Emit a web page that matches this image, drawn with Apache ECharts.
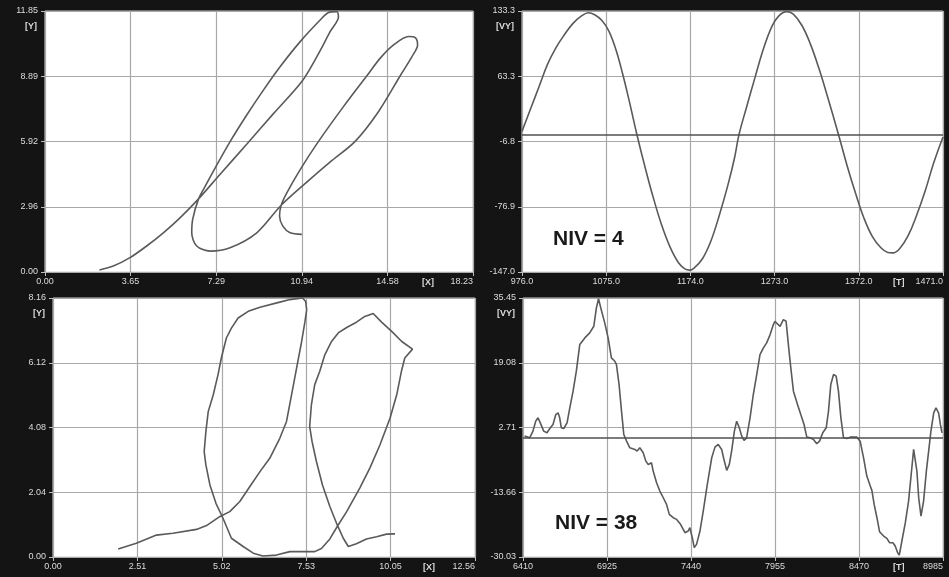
<!DOCTYPE html>
<html>
<head>
<meta charset="utf-8">
<script src="https://cdn.jsdelivr.net/npm/echarts@6/dist/echarts.min.js"></script>
<style>
  html, body { margin: 0; padding: 0; background: #141414; }
  #chart { width: 949px; height: 577px; }
</style>
</head>
<body>
<div id="chart"></div>
<script>
// ---- Tick labels of the four panels ----
const xTicks1 = ['0.00', '3.65', '7.29', '10.94', '14.58', '18.23'];
const yTicks1 = ['0.00', '2.96', '5.92', '8.89', '11.85'];
const tTicks2 = ['976.0', '1075.0', '1174.0', '1273.0', '1372.0', '1471.0'];
const vTicks2 = ['-147.0', '-76.9', '-6.8', '63.3', '133.3'];
const xTicks3 = ['0.00', '2.51', '5.02', '7.53', '10.05', '12.56'];
const yTicks3 = ['0.00', '2.04', '4.08', '6.12', '8.16'];
const tTicks4 = ['6410', '6925', '7440', '7955', '8470', '8985'];
const vTicks4 = ['-30.03', '-13.66', '2.71', '19.08', '35.45'];

// ---- Panel 1: X/Y trajectory (two elongated loops) ----
const x1 = [2.32, 2.91, 3.62, 4.33, 5.04, 5.75, 6.54, 7.46, 8.60, 9.73, 10.94, 11.58, 12.15, 12.50, 12.43,
            12.08, 11.72, 10.87, 10.02, 9.31, 8.60, 7.89, 7.25, 6.82, 6.54, 6.29, 6.25, 6.46, 7.03, 7.88,
            9.02, 10.06, 11.15, 12.15, 13.21, 14.21, 15.13, 15.63, 15.87, 15.77, 15.49, 14.85, 14.28, 13.71,
            12.72, 11.65, 10.87, 10.30, 10.06, 9.99, 10.13, 10.44, 10.94];
const y1 = [0.09, 0.27, 0.65, 1.18, 1.78, 2.46, 3.32, 4.44, 5.81, 7.19, 8.65, 9.78, 10.92, 11.59, 11.82,
            11.78, 11.44, 10.46, 9.33, 8.27, 7.14, 5.93, 4.73, 3.89, 3.32, 2.39, 1.78, 1.18, 0.95, 1.10,
            1.78, 3.03, 4.08, 5.00, 5.93, 7.29, 8.91, 9.78, 10.31, 10.64, 10.69, 10.31, 9.71, 8.91,
            7.52, 5.93, 4.65, 3.59, 3.03, 2.54, 2.08, 1.78, 1.71];

// ---- Panel 2: VY over T (NIV = 4) ----
const t2 = [976, 986, 996, 1006, 1016, 1026, 1036, 1046, 1054, 1062, 1070, 1078, 1086, 1094, 1102, 1111,
            1120, 1130, 1140, 1150, 1160, 1168, 1173, 1178, 1188, 1198, 1208, 1218, 1226, 1231, 1240,
            1250, 1260, 1270, 1278, 1287, 1295, 1305, 1315, 1325, 1335, 1348, 1358, 1368, 1378, 1388,
            1398, 1406, 1412, 1420, 1430, 1440, 1450, 1460, 1471];
const v2 = [4, 28, 52, 76, 94, 108, 120, 128, 131.5, 129, 123, 112, 93, 67, 37, 1,
            -32, -66, -96, -120, -137, -144, -145, -143, -133, -114, -86, -54, -24, 0, 30,
            62, 93, 117, 128, 132.6, 130, 118, 98, 72, 42, 1, -32, -62, -89, -109,
            -121, -126, -126.5, -122, -108, -86, -60, -30, -2];
const base2 = 0;

// ---- Panel 3: X/Y trajectory (hand traced loops) ----
const x3 = [1.94, 2.48, 3.08, 3.57, 4.27, 4.57, 4.96, 5.26, 5.56, 5.86, 6.16, 6.45, 6.75, 6.95, 7.10, 7.25,
            7.40, 7.50, 7.55, 7.52, 7.43, 7.05, 6.75, 6.16, 5.81, 5.51, 5.31, 5.16, 5.01, 4.91, 4.77,
            4.62, 4.55, 4.50, 4.55, 4.67, 4.85, 5.06, 5.31, 5.66, 5.96, 6.25, 6.65, 7.05, 7.40, 7.79,
            7.99, 8.24, 8.46, 8.74, 9.13, 9.43, 9.73, 10.03, 10.23, 10.37, 10.47, 10.70, 10.38, 10.08,
            9.78, 9.53, 9.28, 8.99, 8.74, 8.49, 8.29, 8.09, 7.94, 7.79, 7.69, 7.64, 7.71, 7.84, 8.02,
            8.24, 8.46, 8.64, 8.79, 9.03, 9.33, 9.63, 9.93, 10.18];
const y3 = [0.25, 0.43, 0.69, 0.75, 0.87, 0.99, 1.27, 1.43, 1.75, 2.22, 2.69, 3.11, 3.74, 4.27, 5.11, 5.95,
            6.79, 7.42, 7.79, 8.05, 8.16, 8.11, 8.03, 7.87, 7.74, 7.53, 7.21, 6.90, 6.27, 5.74, 5.11,
            4.58, 3.95, 3.32, 2.90, 2.27, 1.69, 1.22, 0.59, 0.33, 0.12, 0.03, 0.06, 0.17, 0.17, 0.17,
            0.27, 0.57, 0.96, 1.43, 2.17, 2.80, 3.53, 4.37, 5.11, 5.85, 6.27, 6.55, 6.79, 7.11,
            7.40, 7.67, 7.58, 7.37, 7.23, 7.06, 6.79, 6.37, 5.85, 5.43, 4.79, 4.11, 3.64, 3.01, 2.27,
            1.59, 1.01, 0.59, 0.33, 0.42, 0.57, 0.64, 0.72, 0.73];

// ---- Panel 4: VY over T (NIV = 38) ----
const t4 = [6420, 6451, 6471, 6488, 6502, 6516, 6537, 6557, 6578, 6594, 6611, 6625, 6635, 6645, 6660, 6680,
            6697, 6717, 6737, 6758, 6789, 6819, 6844, 6860, 6873, 6887, 6911, 6932, 6952, 6973, 6983,
            6999, 7014, 7028, 7045, 7065, 7096, 7110, 7126, 7137, 7147, 7163, 7178, 7198, 7208, 7229,
            7249, 7270, 7290, 7307, 7331, 7352, 7376, 7403, 7423, 7433, 7448, 7460, 7474, 7495, 7515,
            7540, 7567, 7587, 7607, 7628, 7642, 7659, 7675, 7689, 7706, 7720, 7736, 7751, 7765, 7781,
            7802, 7822, 7843, 7863, 7884, 7904, 7925, 7945, 7955, 7970, 7986, 8006, 8023, 8037, 8052,
            8068, 8093, 8113, 8133, 8150, 8170, 8191, 8211, 8228, 8248, 8269, 8283, 8297, 8314, 8330,
            8344, 8359, 8375, 8395, 8416, 8457, 8477, 8498, 8518, 8539, 8549, 8563, 8580, 8596, 8621,
            8641, 8657, 8678, 8692, 8707, 8717, 8733, 8754, 8774, 8788, 8805, 8815, 8825, 8836, 8850,
            8866, 8883, 8897, 8911, 8928, 8942, 8958, 8969, 8979];
const v4 = [0.53, 0.10, 1.79, 4.31, 5.16, 3.89, 1.79, 1.37, 2.63, 3.47, 5.99, 6.42, 5.16, 2.63, 2.46, 3.89,
            7.68, 11.89, 16.94, 23.67, 25.36, 26.62, 28.30, 32.93, 35.29, 32.93, 29.15, 25.36, 20.31, 19.46, 18.62,
            13.57, 6.84, 0.95, -0.74, -2.42, -2.84, -3.26, -2.42, -2.17, -3.68, -5.79, -6.63, -6.21, -8.31, -11.26,
            -13.36, -15.05, -16.73, -19.26, -20.10, -20.52, -21.78, -23.89, -23.46, -22.62, -25.15, -27.67, -26.83, -23.46, -18.41,
            -11.68, -4.95, -2.25, -1.58, -2.84, -5.37, -8.14, -6.63, -3.26, 1.79, 4.31, 2.63, 0.53, -0.57, 0.10,
            5.16, 11.05, 16.10, 21.15, 22.83, 24.10, 26.20, 28.73, 29.57, 28.89, 28.30, 29.99, 29.57, 23.67, 17.78,
            11.89, 8.52, 5.99, 3.47, 0.27, 0.10, -0.32, -1.41, -0.74, 1.37, 2.63, 6.84, 13.57, 16.10, 15.68,
            11.89, 5.16, 0.10, -0.06, 0.27, 0.27, -0.74, -4.95, -9.58, -12.10, -13.19, -16.73, -20.10, -23.63, -24.73,
            -25.32, -26.41, -26.41, -27.25, -28.94, -29.52, -25.99, -21.36, -15.89, -9.99, -2.84, -3.26, -8.31, -15.05, -19.68,
            -15.89, -8.31, -3.26, 1.79, 6.42, 7.68, 6.42, 3.47, 1.37];
const base4 = 0;

const zip = (a, b) => a.map((v, i) => [v, b[i]]);

const LABEL_COLOR = '#dcdcdc';
const CURVE_COLOR = '#5a5a5a';

function makeAxis(gridIndex, ticks, name, isX, nameGap) {
  const min = parseFloat(ticks[0]);
  const max = parseFloat(ticks[ticks.length - 1]);
  const interval = (max - min) / (ticks.length - 1);
  const axis = {
    type: 'value',
    gridIndex: gridIndex,
    position: isX ? 'bottom' : 'left',
    min: min,
    max: max,
    interval: interval,
    axisLine: { show: false, onZero: false },
    axisTick: { show: true, length: 4, lineStyle: { color: '#bdbdbd' } },
    splitLine: { show: true, lineStyle: { color: '#a8a8a8', width: 1.2 } },
    axisLabel: {
      color: LABEL_COLOR,
      fontSize: 9,
      fontFamily: 'Liberation Sans',
      margin: isX ? 5 : 7,
      formatter: function (v) { return ticks[Math.round((v - min) / interval)]; }
    },
    name: name,
    nameLocation: 'end',
    nameGap: nameGap,
    nameTextStyle: {
      color: LABEL_COLOR,
      fontSize: 9,
      fontWeight: 'bold',
      fontFamily: 'Liberation Sans'
    }
  };
  if (isX) {
    axis.axisLabel.alignMaxLabel = 'right';
    axis.nameTextStyle.align = 'left';
    axis.nameTextStyle.verticalAlign = 'top';
    axis.nameTextStyle.padding = [6, 0, 0, 0];
  } else {
    axis.nameTextStyle.align = 'right';
    axis.nameTextStyle.verticalAlign = 'middle';
    axis.nameTextStyle.padding = [0, 8, 0, 0];
  }
  return axis;
}

function curve(idx, data, smooth, baseline) {
  const s = {
    type: 'line',
    xAxisIndex: idx,
    yAxisIndex: idx,
    data: data,
    showSymbol: false,
    symbol: 'none',
    smooth: smooth,
    lineStyle: { color: CURVE_COLOR, width: 1.6 },
    silent: true
  };
  if (baseline !== undefined) {
    s.markLine = {
      silent: true,
      symbol: 'none',
      label: { show: false },
      lineStyle: { color: '#505050', width: 1.6, type: 'solid' },
      data: [{ yAxis: baseline }]
    };
  }
  return s;
}

const gridStyle = { show: true, backgroundColor: '#ffffff', borderColor: '#cfcfcf', borderWidth: 1 };

const chart = echarts.init(document.getElementById('chart'), null, { renderer: 'canvas' });
chart.setOption({
  backgroundColor: '#141414',
  animation: false,
  grid: [
    Object.assign({ left: 45, top: 11, width: 428, height: 261 }, gridStyle),
    Object.assign({ left: 522, top: 11, width: 421, height: 261 }, gridStyle),
    Object.assign({ left: 53, top: 298, width: 422, height: 259 }, gridStyle),
    Object.assign({ left: 523, top: 298, width: 420, height: 259 }, gridStyle)
  ],
  xAxis: [
    makeAxis(0, xTicks1, '[X]', true, -51),
    makeAxis(1, tTicks2, '[T]', true, -50),
    makeAxis(2, xTicks3, '[X]', true, -52),
    makeAxis(3, tTicks4, '[T]', true, -50)
  ],
  yAxis: [
    makeAxis(0, yTicks1, '[Y]', false, -16),
    makeAxis(1, vTicks2, '[VY]', false, -16),
    makeAxis(2, yTicks3, '[Y]', false, -16),
    makeAxis(3, vTicks4, '[VY]', false, -16)
  ],
  series: [
    curve(0, zip(x1, y1), 0.3),
    curve(1, zip(t2, v2), 0.4, base2),
    curve(2, zip(x3, y3), false),
    curve(3, zip(t4, v4), false, base4)
  ],
  graphic: [
    {
      type: 'text', left: 553, top: 229, silent: true,
      style: { text: 'NIV = 4', fill: '#1a1a1a', font: 'bold 21px "Liberation Sans"' }
    },
    {
      type: 'text', left: 555, top: 513, silent: true,
      style: { text: 'NIV = 38', fill: '#1a1a1a', font: 'bold 21px "Liberation Sans"' }
    }
  ]
});
</script>
</body>
</html>
